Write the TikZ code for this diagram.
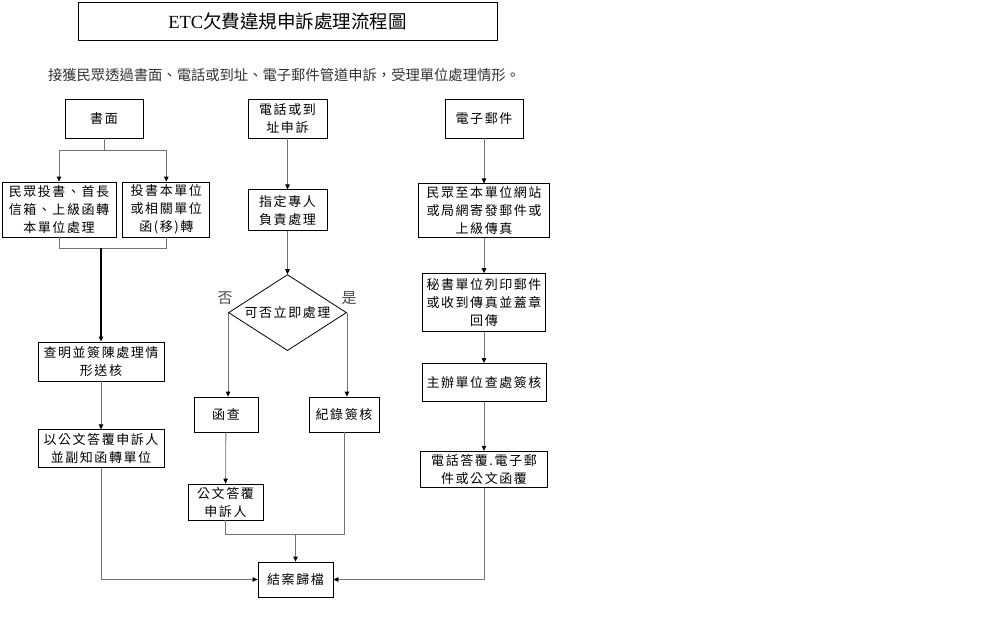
\documentclass[tikz,border=0pt]{standalone}
\usepackage{fontspec}
\setmainfont{Liberation Serif}
\newfontfamily\cjk{Noto Sans CJK TC}
\newfontfamily\cjkbox{Noto Sans CJK TC}[LetterSpace=12]
\usepackage{tikz}
\usetikzlibrary{shapes.geometric, arrows.meta, positioning, calc}
\newcommand{\boxfont}{\cjkbox\fontsize{13}{18}\selectfont}
\tikzset{
  block/.style={rectangle,draw=black,line width=0.8pt,fill=white,
    inner sep=0pt,align=center,font=\boxfont},
  titleblock/.style={rectangle,draw=black,line width=0.8pt,
    minimum width=419pt,minimum height=38pt,inner sep=0pt,
    font=\fontsize{18.5}{22}\selectfont},
  decision/.style={diamond,draw=black,line width=0.8pt,fill=white,aspect=1.55,
    minimum width=118pt,minimum height=76pt,inner sep=0pt,font=\boxfont},
  answer/.style={font=\cjk\fontsize{15}{18}\selectfont,inner sep=0pt,text=black!70},
  arrow/.style={-{Triangle[length=5pt,width=4.5pt,color=black]},line width=0.8pt,draw=black!55},
  plainline/.style={line width=0.8pt,draw=black!55}
}
\begin{document}
\begin{tikzpicture}[x=1pt,y=-1pt]
  \useasboundingbox (0,0) rectangle (1008,630);
  \node[titleblock] (title) at (287.5,21) {ETC{\cjk 欠費違規申訴處理流程圖}};
  \node[font=\cjk\fontsize{14.3}{16}\selectfont,text=black!80] (intro) at (284,75)
    {接獲民眾透過書面、電話或到址、電子郵件管道申訴，受理單位處理情形。};

  % 書面
  \node[block, minimum width=78pt, minimum height=39pt] (shumian) at (104,118.5) {書面};
  \node[block, minimum width=114pt, minimum height=55pt] (toushu) at (59,209.5) {民眾投書、首長\\ 信箱、上級函轉\\ 本單位處理};
  \node[block, minimum width=87pt, minimum height=55pt, right=6pt of toushu] (zhuanjiao) {投書本單位\\ 或相關單位\\ 函(移)轉};
  \node[block, minimum width=126pt, minimum height=39pt] (chaming) at (101,361.5) {查明並簽陳處理情\\ 形送核};
  \node[block, minimum width=126pt, minimum height=38pt, below=48pt of chaming] (dafu) {以公文答覆申訴人\\ 並副知函轉單位};

  % 電話或到址
  \node[block, minimum width=79pt, minimum height=39pt] (dianhua) at (287.5,118.5) {電話或到\\ 址申訴};
  \node[block, minimum width=79pt, minimum height=41pt, below=51pt of dianhua] (zhuanren) {指定專人\\ 負責處理};
  \node[decision, below=43pt of zhuanren] (panduan) {可否立即處理};
  \node[answer] (fou) at (225,298) {否};
  \node[answer] (shi) at (349,298) {是};
  \node[block, minimum width=64pt, minimum height=35pt] (hancha) at (226,414.5) {函查};
  \node[block, minimum width=70pt, minimum height=35pt] (jilu) at (344,414.5) {紀錄簽核};
  \node[block, minimum width=75pt, minimum height=36pt] (gongwen) at (225.5,502) {公文答覆\\ 申訴人};
  \node[block, minimum width=75pt, minimum height=35pt] (jiean) at (295.5,579.5) {結案歸檔};

  % 電子郵件
  \node[block, minimum width=78pt, minimum height=39pt] (youjian) at (484,118.5) {電子郵件};
  \node[block, minimum width=131pt, minimum height=54pt, below=45pt of youjian] (wangzhan) {民眾至本單位網站\\ 或局網寄發郵件或\\ 上級傳真};
  \node[block, minimum width=123pt, minimum height=58pt, below=35pt of wangzhan] (mishu) {秘書單位列印郵件\\ 或收到傳真並蓋章\\ 回傳};
  \node[block, minimum width=124pt, minimum height=38pt, below=31pt of mishu] (zhuban) {主辦單位查處簽核};
  \node[block, minimum width=127pt, minimum height=36pt, below=49pt of zhuban] (huifu) {電話答覆.電子郵\\ 件或公文函覆};

  \draw[plainline] (shumian.south) -- ++(0,12) coordinate (split);
  \draw[arrow] (split) -| (toushu.north);
  \draw[arrow] (split) -| (zhuanjiao.north);
  \draw[plainline] (toushu.south) -- ++(0,11) coordinate (join) -| (zhuanjiao.south);
  \draw[arrow,draw=black,line width=1.2pt] (join -| chaming.north) -- (chaming.north);
  \draw[arrow] (chaming) -- (dafu);
  \draw[arrow] (dafu.south) |- (jiean.west);

  \draw[arrow] (dianhua) -- (zhuanren);
  \draw[arrow] (zhuanren) -- (panduan);
  \draw[arrow] (panduan.west) -- (panduan.west |- hancha.north);
  \draw[arrow] (panduan.east) -- (panduan.east |- jilu.north);
  \draw[arrow] (hancha) -- (gongwen);
  \draw[plainline] (gongwen.south) -- ++(0,14) coordinate (merge) -| (jilu.south);
  \draw[arrow] (merge -| jiean.north) -- (jiean.north);

  \draw[arrow] (youjian) -- (wangzhan);
  \draw[arrow] (wangzhan) -- (mishu);
  \draw[arrow] (mishu) -- (zhuban);
  \draw[arrow] (zhuban) -- (huifu);
  \draw[arrow] (huifu.south) |- (jiean.east);
\end{tikzpicture}
\end{document}
